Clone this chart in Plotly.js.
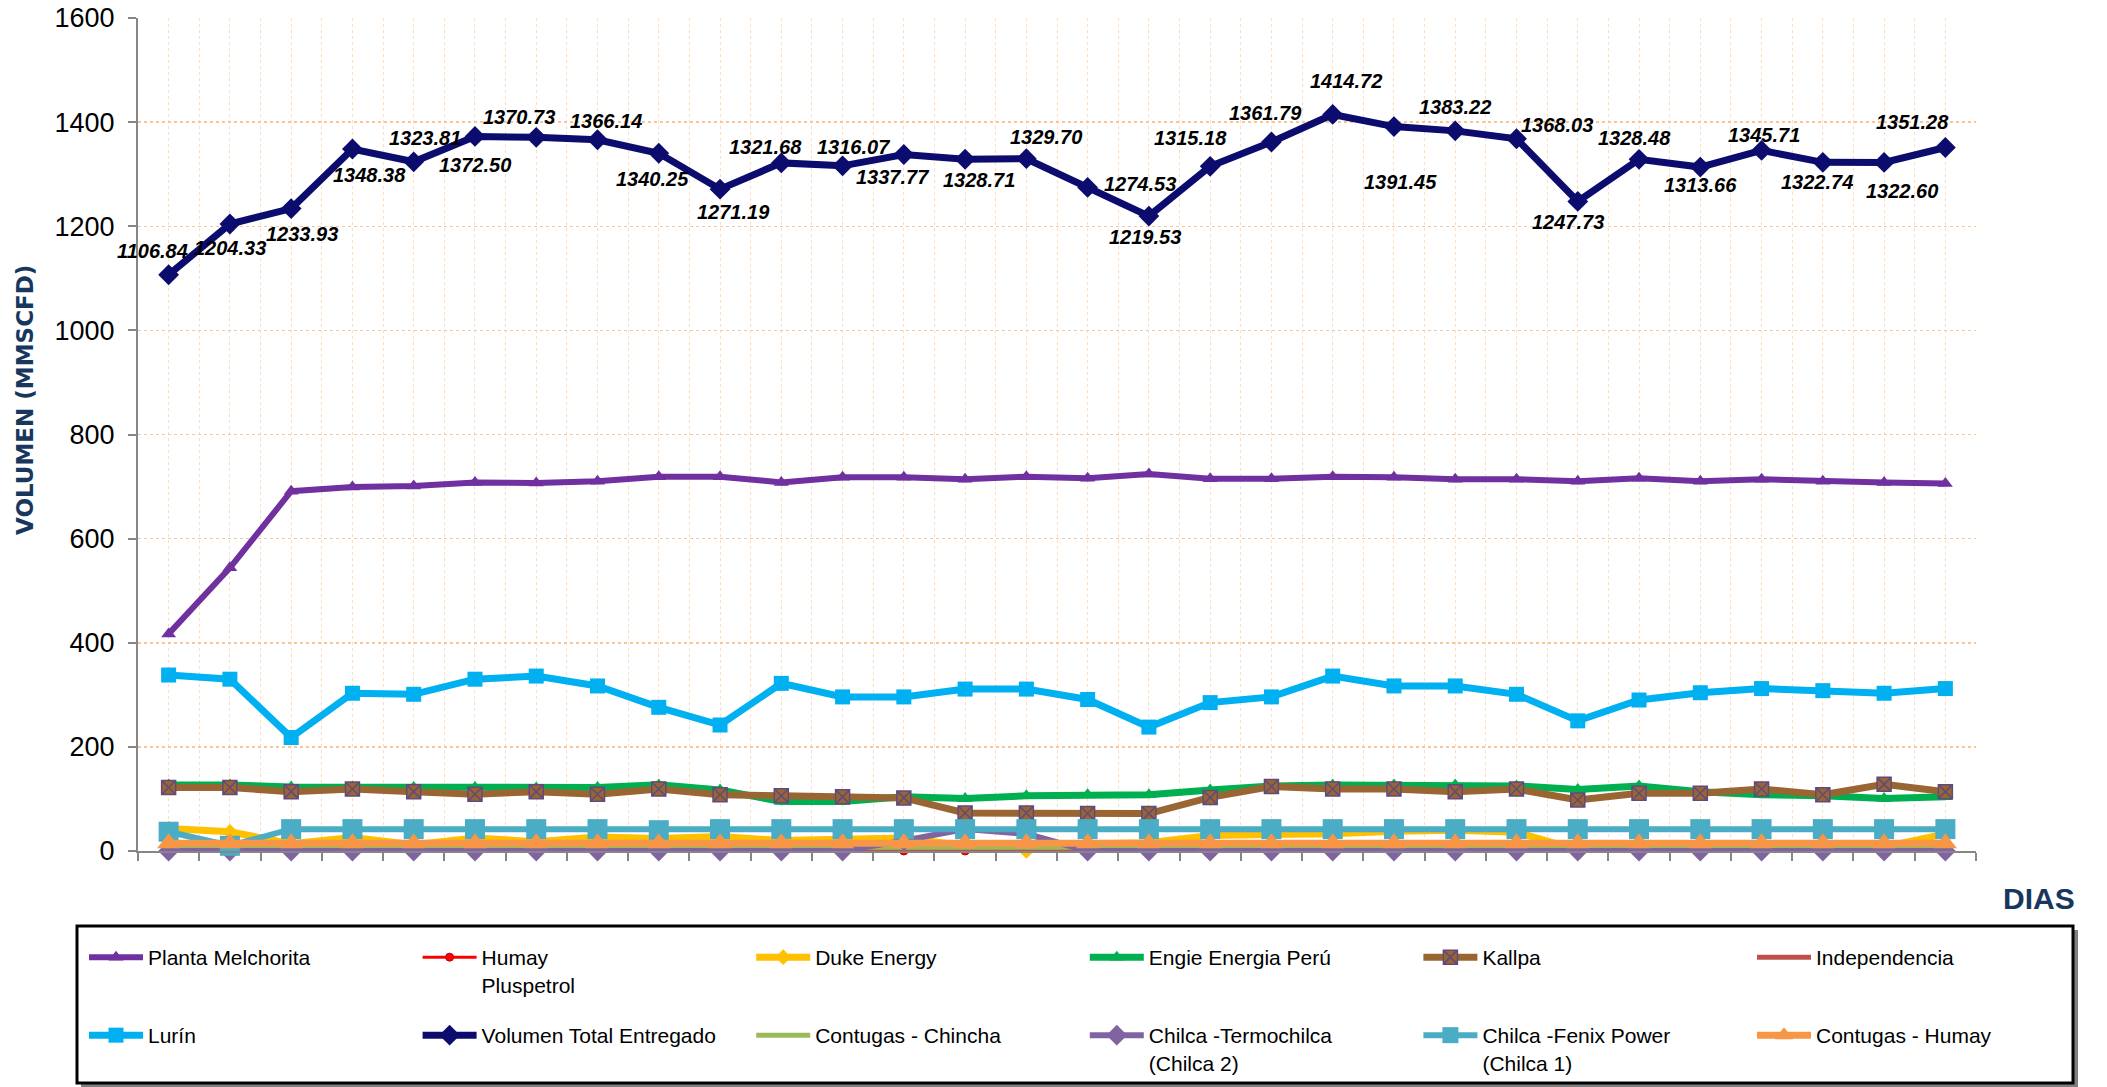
<!DOCTYPE html>
<html>
<head>
<meta charset="utf-8">
<script src="https://cdn.plot.ly/plotly-3.0.1.min.js"></script>
<style>
html,body{margin:0;padding:0;background:#ffffff;}
#chart{width:2107px;height:1087px;}
</style>
</head>
<body>
<div id="chart"></div>
<script>
// ---------------- DATA ----------------
const days = [1,2,3,4,5,6,7,8,9,10,11,12,13,14,15,16,17,18,19,20,21,22,23,24,25,26,27,28,29,30];

const plantaMelchorita = [417,544,691,699,701,708,707,710,719,719,708,718,718,714,719,716,724,715,715,719,718,714,714,710,716,710,714,710,708,706];
const humayPluspetrol  = [0,0,0,0,0,0,0,0,0,0,0,0,0,0,0,0,17,17,17,17,17,17,17,17,17,17,17,17,17,17];
const dukeEnergy       = [43,37,14,26,12,25,18,27,24,28,20,24,25,10,0,14,16,30,31,33,38,40,36,2,10,0,12,5,8,33];
const engieEnergia     = [127,127,123,123,122,122,121,122,127,117,95,95,104,101,106,108,108,117,125,127,127,127,125,118,125,114,108,106,101,104];
const kallpa           = [122,122,114,119,114,109,114,109,119,108,106,104,102,73,73,72,72,103,124,119,119,114,119,98,111,111,119,108,128,114];
const independencia    = [0,0,0,0,0,0,0,0,0,0,0,0,0,0,0,0,0,0,0,0,0,0,0,0,0,0,0,0,0,0];
const lurin            = [338,330,218,303,301,330,336,317,276,242,322,296,296,311,311,291,238,285,296,336,317,317,301,250,290,304,312,308,303,312];
const volumenTotal     = [1106.84,1204.33,1233.93,1348.38,1323.81,1372.50,1370.73,1366.14,1340.25,1271.19,1321.68,1316.07,1337.77,1328.71,1329.70,1274.53,1219.53,1315.18,1361.79,1414.72,1391.45,1383.22,1368.03,1247.73,1328.48,1313.66,1345.71,1322.74,1322.60,1351.28];
const contugasChincha  = [7,7,7,7,7,7,7,7,7,7,7,7,7,7,7,7,7,7,7,7,7,7,7,7,7,7,7,7,7,7];
const chilcaTermo      = [0,0,0,0,0,0,0,0,0,0,0,0,20,42,33,0,0,0,0,0,0,0,0,0,0,0,0,0,0,0];
const chilcaFenix      = [37,10,42,42,42,42,42,42,40,42,42,42,42,42,42,42,42,42,42,42,42,42,42,42,42,42,42,42,42,42];
const contugasHumay    = [15,15,15,15,15,15,15,15,15,15,15,15,15,15,15,15,15,15,15,15,15,15,15,15,15,15,15,15,15,15];

const seriesNames = [
  "Planta Melchorita","Humay<br>Pluspetrol","Duke Energy","Engie Energia Perú","Kallpa","Independencia",
  "Lurín","Volumen Total Entregado","Contugas - Chincha","Chilca -Termochilca<br>(Chilca 2)","Chilca -Fenix Power<br>(Chilca 1)","Contugas - Humay"
];
const yTickVals = [0,200,400,600,800,1000,1200,1400,1600];
const yTitle = "VOLUMEN (MMSCFD)";
const xTitle = "DIAS";

// ---------------- LAYOUT / STYLE ----------------
// pixel offsets of the total-volume data labels (dx right, dy down)
const labelShift = [[-16,-24],[0,24],[11,25],[17,26],[11,-24],[0,29],[-17,-20],[8,-19],[-6,26],[13,23],
                    [-16,-16],[11,-19],[-11,22],[14,21],[20,-22],[52,-3],[-4,21],[-20,-28],[-6,-29],[13,-33],
                    [7,55],[0,-24],[40,-14],[-10,21],[-5,-21],[0,18],[2,-15],[-6,20],[18,29],[-33,-25]];

const W = 2107, H = 1087, ML = 30, MR = 30, MT = 18, MB = 236;
const GW = W - ML - MR, GH = H - MT - MB;
const px2x = p => (p - ML) / GW;
const px2y = p => (H - MB - p) / GH;

const FONT = "Liberation Sans, Arial, Helvetica, sans-serif";

function tr(name, y, color, lw, sym, msize, legendId, mline) {
  const t = {
    type: 'scatter', mode: sym ? 'lines+markers' : 'lines',
    x: days, y: y, name: name, legend: legendId,
    line: {color: color, width: lw},
    cliponaxis: false,
    hoverinfo: 'x+y+name'
  };
  if (sym) {
    t.marker = {symbol: sym, size: msize, color: color, line: mline || {width: 0}};
  }
  return t;
}

const traces = [
  tr(seriesNames[0], plantaMelchorita, '#7030A0', 6, 'triangle-up', 13, 'legend'),
  tr(seriesNames[1], humayPluspetrol, '#FF0000', 3, 'circle', 8, 'legend', {color:'#C00000', width:1}),
  tr(seriesNames[2], dukeEnergy, '#FFC000', 7, 'diamond', 12, 'legend'),
  tr(seriesNames[3], engieEnergia, '#00B050', 7, 'triangle-up', 13, 'legend'),
  tr(seriesNames[4], kallpa, '#996633', 7, 'square-x', 14, 'legend', {color:'#604A7B', width:1.5}),
  tr(seriesNames[5], independencia, '#C0504D', 5, null, 0, 'legend'),
  tr(seriesNames[6], lurin, '#00B0F0', 7, 'square', 15, 'legend2'),
  tr(seriesNames[7], volumenTotal, '#0C0C6E', 7, 'diamond', 16, 'legend2'),
  tr(seriesNames[8], contugasChincha, '#9BBB59', 5, null, 0, 'legend2'),
  tr(seriesNames[9], chilcaTermo, '#8064A2', 6, 'diamond', 16, 'legend2'),
  tr(seriesNames[10], chilcaFenix, '#4BACC6', 6, 'square', 20, 'legend2'),
  tr(seriesNames[11], contugasHumay, '#F79646', 7, 'triangle-up', 20, 'legend2')
];

const annotations = volumenTotal.map((v, i) => ({
  x: days[i], y: v, xref: 'x', yref: 'y',
  text: v.toFixed(2), showarrow: false,
  xshift: labelShift[i][0], yshift: -labelShift[i][1],
  font: {family: FONT, size: 20, color: '#000000', weight: 'bold', style: 'italic'}
}));
annotations.push({
  xref: 'paper', yref: 'paper', x: px2x(2039), y: px2y(898),
  text: xTitle, showarrow: false, xanchor: 'center', yanchor: 'middle',
  font: {family: FONT, size: 30, color: '#17375E', weight: 'bold'}
});
annotations.push({
  xref: 'paper', yref: 'paper', x: px2x(25), y: px2y(400),
  text: yTitle, showarrow: false, xanchor: 'center', yanchor: 'middle', textangle: -90,
  font: {family: 'DejaVu Sans, Verdana, sans-serif', size: 23, color: '#17375E', weight: 'bold'}
});

const legendCommon = {
  orientation: 'h', xanchor: 'left', yanchor: 'top',
  x: px2x(84),
  entrywidth: 264.6, entrywidthmode: 'pixels', itemwidth: 54,
  valign: 'top', traceorder: 'normal',
  bgcolor: 'rgba(0,0,0,0)', borderwidth: 0,
  font: {family: FONT, size: 21, color: '#000000'}
};

const layout = {
  width: W, height: H,
  margin: {l: ML, r: MR, t: MT, b: MB, autoexpand: false},
  paper_bgcolor: '#ffffff', plot_bgcolor: '#ffffff',
  showlegend: true,
  xaxis: {
    domain: [px2x(138), px2x(1976)],
    range: [0.5, 30.5], type: 'linear',
    tick0: 0.5, dtick: 1,
    showticklabels: false,
    ticks: 'outside', ticklen: 8, tickwidth: 2, tickcolor: '#868686',
    showline: true, linecolor: '#868686', linewidth: 2,
    showgrid: true, gridcolor: '#FDDCBF', gridwidth: 1, griddash: '3px,3px',
    minor: {tick0: 1, dtick: 1, showgrid: true, gridcolor: '#FDDCBF', gridwidth: 1, griddash: '3px,3px', ticks: ''},
    zeroline: false, fixedrange: true
  },
  yaxis: {
    range: [0, 1600], tickvals: yTickVals, ticktext: yTickVals.map(String),
    ticks: 'outside', ticklen: 8, tickwidth: 2, tickcolor: '#868686',
    ticklabelstandoff: 8,
    tickfont: {family: FONT, size: 27, color: '#000000'},
    showline: true, linecolor: '#868686', linewidth: 2,
    showgrid: true, gridcolor: '#FAC697', gridwidth: 1.5, griddash: 'dot',
    zeroline: false, fixedrange: true
  },
  legend: Object.assign({}, legendCommon, {y: px2y(937)}),
  legend2: Object.assign({}, legendCommon, {y: px2y(1015)}),
  shapes: [
    {type: 'rect', xref: 'paper', yref: 'paper', x0: px2x(81), x1: px2x(2078), y0: px2y(930), y1: px2y(1087),
     fillcolor: '#7F7F7F', line: {width: 0}, layer: 'above'},
    {type: 'rect', xref: 'paper', yref: 'paper', x0: px2x(77), x1: px2x(2073), y0: px2y(926), y1: px2y(1083),
     fillcolor: '#ffffff', line: {color: '#000000', width: 3}, layer: 'above'}
  ],
  annotations: annotations
};

Plotly.newPlot('chart', traces, layout, {displayModeBar: false, responsive: false, staticPlot: true});
</script>
</body>
</html>
